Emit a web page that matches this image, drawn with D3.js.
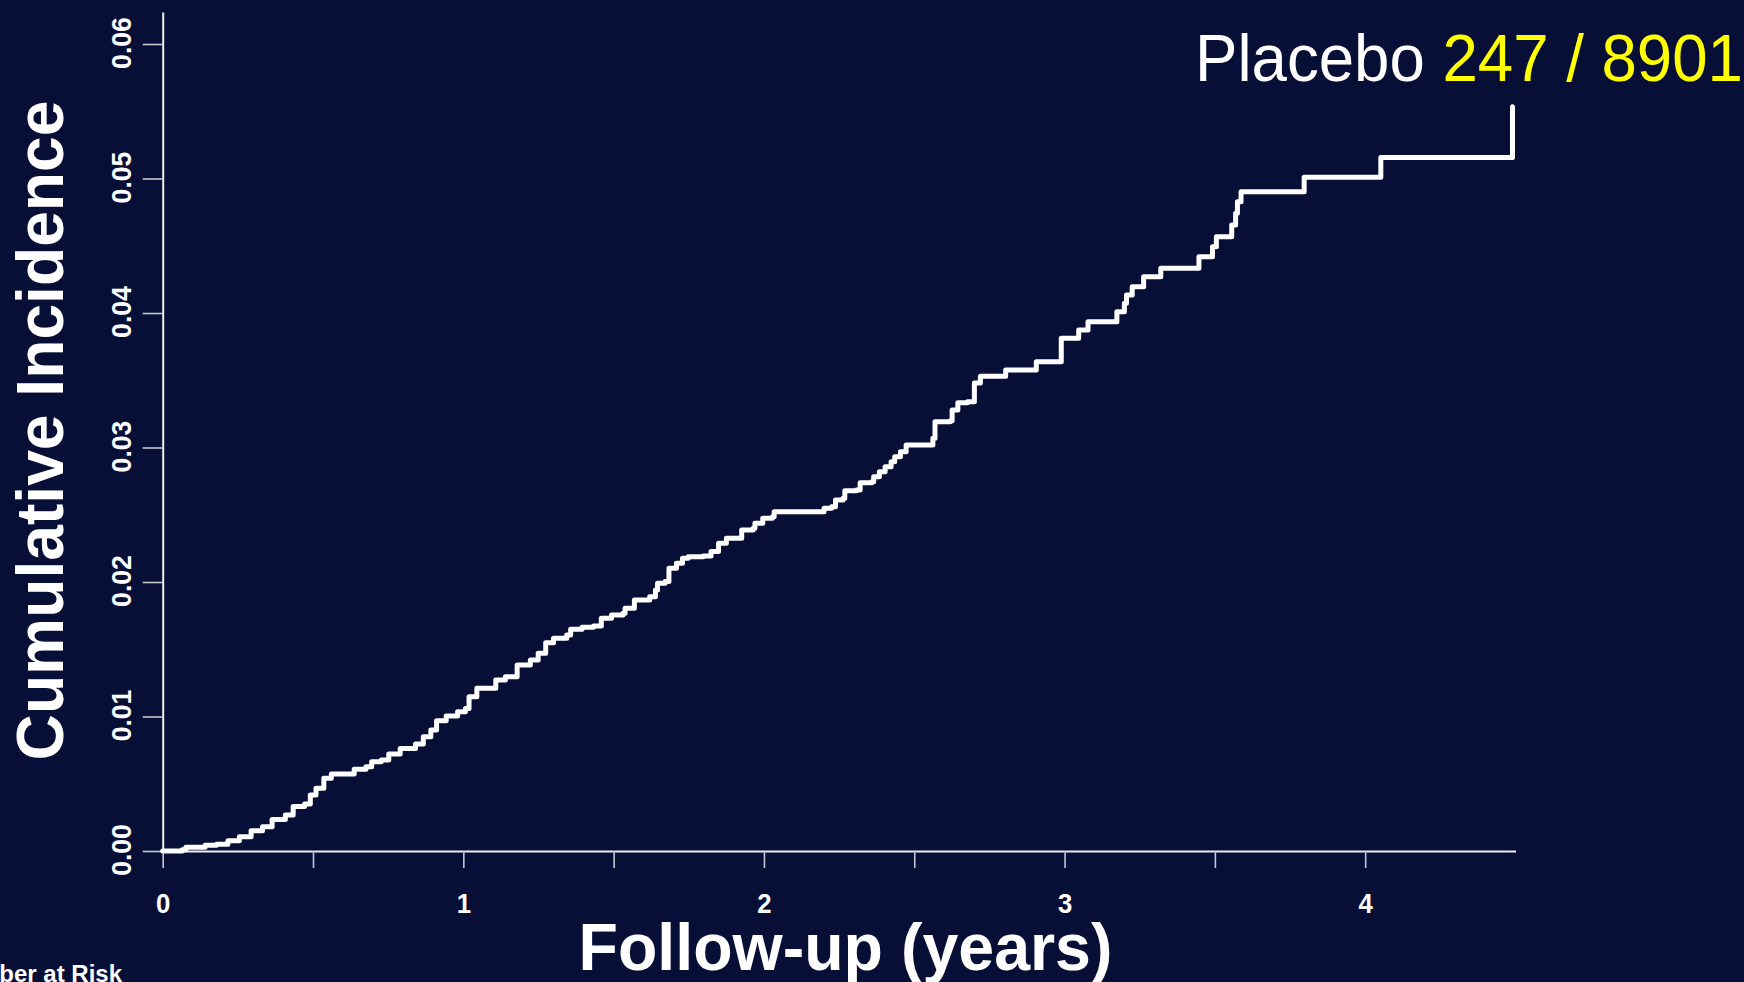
<!DOCTYPE html>
<html>
<head>
<meta charset="utf-8">
<script src="https://cdn.jsdelivr.net/npm/d3@7"></script>
<style>
  html, body { margin: 0; padding: 0; background: #070f37; }
  svg { display: block; }
</style>
</head>
<body>
<svg id="chart" width="1744" height="982"></svg>
<script>
// Cumulative incidence (step function) over follow-up, placebo arm
const followUpYears = [
  0, 0.065, 0.077, 0.141, 0.179, 0.217, 0.255, 0.294, 0.332, 0.364,
  0.408, 0.434, 0.472, 0.491, 0.51, 0.536, 0.561, 0.637, 0.676, 0.695,
  0.727, 0.752, 0.79, 0.841, 0.867, 0.892, 0.911, 0.943, 0.981, 1.007,
  1.019, 1.045, 1.108, 1.14, 1.179, 1.223, 1.249, 1.274, 1.3, 1.344,
  1.357, 1.395, 1.433, 1.459, 1.493, 1.531, 1.538, 1.569, 1.62, 1.639,
  1.646, 1.671, 1.684, 1.709, 1.729, 1.748, 1.798, 1.824, 1.849, 1.875,
  1.926, 1.964, 1.97, 1.996, 2.028, 2.034, 2.2, 2.225, 2.238, 2.263,
  2.269, 2.308, 2.32, 2.359, 2.365, 2.384, 2.403, 2.423, 2.435, 2.454,
  2.473, 2.562, 2.569, 2.62, 2.626, 2.645, 2.677, 2.7, 2.72, 2.804,
  2.906, 2.989, 3.047, 3.078, 3.174, 3.199, 3.206, 3.225, 3.263, 3.32,
  3.447, 3.492, 3.505, 3.556, 3.569, 3.575, 3.587, 3.797, 4.052, 4.49
];
const cumulativeIncidence = [
  0, 0.0001, 0.00027, 0.00042, 0.0005, 0.00077, 0.00106, 0.00151, 0.0018, 0.00235,
  0.00268, 0.0033, 0.0035, 0.00416, 0.00466, 0.0054, 0.00572, 0.00607, 0.00627, 0.00664,
  0.00677, 0.00721, 0.00763, 0.00796, 0.0085, 0.009, 0.00969, 0.01004, 0.01036, 0.0106,
  0.01147, 0.0121, 0.01271, 0.01296, 0.01383, 0.0142, 0.0147, 0.01549, 0.01581, 0.01606,
  0.01648, 0.01663, 0.01673, 0.0173, 0.01755, 0.01767, 0.01804, 0.01866, 0.01891, 0.0194,
  0.0199, 0.02003, 0.02102, 0.02139, 0.02176, 0.02188, 0.02193, 0.02226, 0.02288, 0.02325,
  0.02387, 0.024, 0.02436, 0.02474, 0.02486, 0.02523, 0.02548, 0.0256, 0.0261, 0.02622,
  0.02679, 0.02684, 0.02738, 0.02746, 0.02783, 0.0282, 0.02857, 0.02895, 0.02932, 0.02969,
  0.03019, 0.03068, 0.03192, 0.03199, 0.03279, 0.03333, 0.03341, 0.0348, 0.0353, 0.03576,
  0.03638, 0.03812, 0.03874, 0.03935, 0.0401, 0.04072, 0.04134, 0.04196, 0.0427, 0.04332,
  0.04419, 0.04493, 0.04567, 0.04654, 0.04741, 0.04828, 0.04902, 0.05009, 0.05157, 0.05534
];

const xTickValues = [0, 0.5, 1, 1.5, 2, 2.5, 3, 3.5, 4];
const xTickLabels = ["0", "", "1", "", "2", "", "3", "", "4"];
const yTickValues = [0, 0.01, 0.02, 0.03, 0.04, 0.05, 0.06];
const yTickLabels = ["0.00", "0.01", "0.02", "0.03", "0.04", "0.05", "0.06"];

const groupName = "Placebo";
const eventCount = "247 / 8901";
const xTitle = "Follow-up (years)";
const yTitle = "Cumulative Incidence";
const riskTitle = "Number at Risk";

const FONT = "'Liberation Sans', Arial, Helvetica, sans-serif";
const svg = d3.select("#chart");

const x = d3.scaleLinear().domain([0, 4.5]).range([162.7, 1515.5]);
const y = d3.scaleLinear().domain([0, 0.06238]).range([851, 12]);

// axes
const xAxis = d3.axisBottom(x)
  .tickValues(xTickValues)
  .tickSize(17)
  .tickSizeOuter(0)
  .tickFormat((d, i) => xTickLabels[i]);

const yAxis = d3.axisLeft(y)
  .tickValues(yTickValues)
  .tickSize(20)
  .tickSizeOuter(0)
  .tickFormat((d, i) => yTickLabels[i]);

const gx = svg.append("g").attr("transform", "translate(0,851)").call(xAxis);
const gy = svg.append("g").attr("transform", "translate(162.7,0)").call(yAxis);

[gx, gy].forEach(g => {
  g.select(".domain").attr("stroke", "#eeeeee").attr("stroke-width", 2);
  g.selectAll(".tick line").attr("stroke", "#c4c6cf").attr("stroke-width", 1.6);
  g.selectAll(".tick text")
    .attr("fill", "#ffffff")
    .attr("font-family", FONT)
    .attr("font-weight", "bold")
    .attr("font-size", 28);
});

gx.selectAll(".tick text")
  .attr("y", 0)
  .attr("dy", 0)
  .attr("transform", "translate(0,62) scale(0.92,1)");
gy.selectAll(".tick text")
  .attr("x", 0)
  .attr("y", 0)
  .attr("dy", 0)
  .attr("text-anchor", "middle")
  .attr("transform", "translate(-32,-1.5) rotate(-90) scale(0.95,1)");

// step curve
const line = d3.line()
  .x(d => x(d[0]))
  .y(d => y(d[1]))
  .curve(d3.curveStepAfter);

svg.append("path")
  .datum(d3.zip(followUpYears, cumulativeIncidence))
  .attr("d", line)
  .attr("fill", "none")
  .attr("stroke", "#ffffff")
  .attr("stroke-width", 5)
  .attr("stroke-linejoin", "round")
  .attr("stroke-linecap", "round");

// squeeze a text element horizontally so its width matches the target
function fit(sel, target) {
  const w = sel.node().getComputedTextLength();
  return w > 0 ? target / w : 1;
}

// axis titles
const yt = svg.append("text")
  .attr("text-anchor", "middle")
  .attr("font-family", FONT)
  .attr("font-weight", "bold")
  .attr("font-size", 66)
  .attr("fill", "#ffffff")
  .text(yTitle);
yt.attr("transform", `translate(63,430.5) rotate(-90) scale(${fit(yt, 660)},1)`);

const xt = svg.append("text")
  .attr("text-anchor", "middle")
  .attr("font-family", FONT)
  .attr("font-weight", "bold")
  .attr("font-size", 66)
  .attr("fill", "#ffffff")
  .text(xTitle);
xt.attr("transform", `translate(845.5,970) scale(${fit(xt, 534)},1)`);

// group label with event count
const lg = svg.append("text")
  .attr("font-family", FONT)
  .attr("font-size", 66)
  .attr("fill", "#ffffff");
lg.append("tspan").text(groupName + " ");
lg.append("tspan").attr("fill", "#ffff00").text(eventCount);
lg.attr("transform", `translate(1195,81) scale(${fit(lg, 548)},1)`);

// risk table heading
svg.append("text")
  .attr("x", 122)
  .attr("y", 982)
  .attr("text-anchor", "end")
  .attr("font-family", FONT)
  .attr("font-weight", "bold")
  .attr("font-size", 24)
  .attr("fill", "#ffffff")
  .text(riskTitle);
</script>
</body>
</html>
